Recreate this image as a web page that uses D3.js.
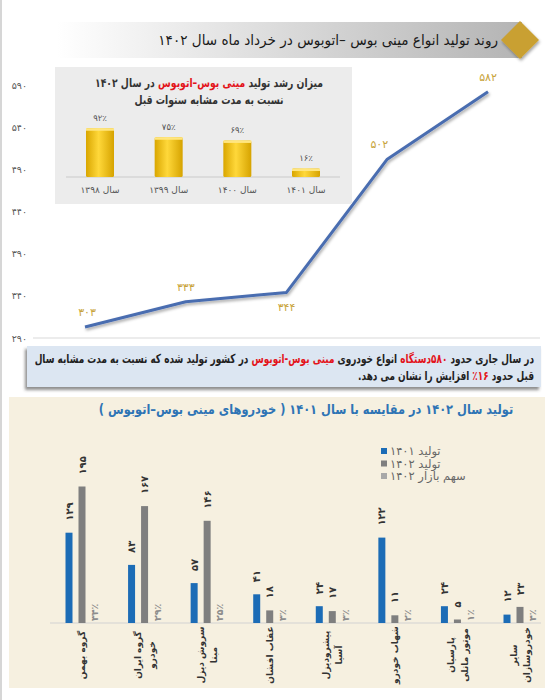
<!DOCTYPE html>
<html>
<head>
<meta charset="utf-8">
<script src="https://cdn.jsdelivr.net/npm/d3@7"></script>
<style>
body { margin: 0; background: #fff; }
svg { display: block; font-family: "DejaVu Sans", sans-serif; }
</style>
</head>
<body>
<div id="chart"></div>
<script>
// Persian digits
var fa = function (v) {
    return String(v).replace(/\d/g, function (d) { return "۰۱۲۳۴۵۶۷۸۹"[d]; });
};

// --- line chart: production trend (Khordad) ---
var trendYears = ["۱۳۹۸", "۱۳۹۹", "۱۴۰۰", "۱۴۰۱", "۱۴۰۲"];
var trendValues = [303, 333, 344, 502, 582];
var trendTicks = [290, 340, 390, 440, 490, 540, 590];

// --- inset: growth compared with same period of earlier years ---
var growthYears = ["سال ۱۳۹۸", "سال ۱۳۹۹", "سال ۱۴۰۰", "سال ۱۴۰۱"];
var growthValues = [92, 75, 69, 16];

// --- bottom chart: producers 1401 vs 1402 ---
var makers = [
    ["گروه بهمن"],
    ["گروه ایران", "خودرو"],
    ["سروش دیزل", "مبنا"],
    ["عقاب افشان"],
    ["پیشرودیزل", "آسیا"],
    ["شهاب خودرو"],
    ["پارسیان", "موتور مانلی"],
    ["سایر", "خودروسازان"]
];
var prod1401 = [129, 83, 57, 41, 24, 122, 24, 12];
var prod1402 = [195, 167, 146, 18, 17, 11, 5, 23];
var share1402 = [34, 29, 25, 3, 3, 2, 1, 4];
var legendNames = ["تولید ۱۴۰۱", "تولید ۱۴۰۲", "سهم بازار ۱۴۰۲"];

var W = 553, H = 700;
var svg = d3.select("#chart").append("svg")
        .attr("width", W)
        .attr("height", H);

var defs = svg.append("defs");
var bannerGrad = defs.append("linearGradient").attr("id", "banner");
bannerGrad.append("stop").attr("offset", "0%").attr("stop-color", "#ffffff");
bannerGrad.append("stop").attr("offset", "100%").attr("stop-color", "#b4b4b4");

var goldGrad = defs.append("linearGradient").attr("id", "gold");
goldGrad.append("stop").attr("offset", "0%").attr("stop-color", "#d9a600");
goldGrad.append("stop").attr("offset", "45%").attr("stop-color", "#ffd83a");
goldGrad.append("stop").attr("offset", "100%").attr("stop-color", "#d6a300");

var sh = defs.append("filter").attr("id", "shadow")
        .attr("x", "-10%").attr("y", "-30%").attr("width", "120%").attr("height", "160%");
sh.append("feDropShadow").attr("dx", 1).attr("dy", 2)
        .attr("stdDeviation", 1.4).attr("flood-color", "#000").attr("flood-opacity", 0.35);

var boxSh = defs.append("filter").attr("id", "boxshadow")
        .attr("x", "-5%").attr("y", "-20%").attr("width", "110%").attr("height", "150%");
boxSh.append("feDropShadow").attr("dx", -2).attr("dy", 3)
        .attr("stdDeviation", 1.5).attr("flood-color", "#444").attr("flood-opacity", 0.6);

// squeeze a text horizontally (about its anchor x) so it takes the given width
function squeeze(sel, w, s) {
    if (s === undefined) {
        var len = sel.node().getComputedTextLength();
        s = len > 0 ? w / len : 1;
    }
    var ax = +sel.attr("x");
    sel.attr("transform", "translate(" + ax + ",0) scale(" + s + ",1) translate(" + (-ax) + ",0)");
    return s;
}

// page frame
svg.append("line")
        .attr("x1", 1).attr("x2", 1).attr("y1", 0).attr("y2", H)
        .attr("stroke", "#d6d6d6").attr("stroke-width", 2);

// ===== title banner =====
svg.append("rect")
        .attr("x", 57).attr("y", 22).attr("width", 465).attr("height", 36)
        .attr("fill", "url(#banner)");
svg.append("path")
        .attr("d", "M520,21 L539,40 L520,59 L501,40 Z")
        .attr("fill", "#c9a030")
        .attr("filter", "url(#shadow)");
var title = svg.append("text")
        .attr("x", 498).attr("y", 40)
        .attr("dy", "0.35em")
        .attr("direction", "rtl")
        .attr("text-anchor", "start")
        .attr("font-size", 14.5)
        .attr("fill", "#1a1a1a")
        .text("روند تولید انواع مینی بوس –اتوبوس در خرداد ماه سال ۱۴۰۲");
squeeze(title, 340);

// ===== line chart =====
var x = d3.scalePoint().domain(trendYears).range([85, 488]);
var y = d3.scaleLinear().domain([290, 590]).range([338, 85]);

svg.append("line")
        .attr("x1", 33).attr("x2", 540)
        .attr("y1", y(290)).attr("y2", y(290))
        .attr("stroke", "#d9d9d9").attr("stroke-width", 1);

var yAxis = svg.append("g")
        .attr("transform", "translate(30,0)")
        .call(d3.axisLeft(y).tickValues(trendTicks).tickSize(0).tickPadding(3).tickFormat(fa));
yAxis.select(".domain").remove();
yAxis.selectAll("text")
        .attr("font-family", "DejaVu Sans")
        .attr("font-size", 9.5)
        .attr("fill", "#595959");

var line = d3.line()
        .x(function (d, i) { return x(trendYears[i]); })
        .y(function (d) { return y(d); });

svg.append("path")
        .datum(trendValues)
        .attr("d", line)
        .attr("fill", "none")
        .attr("stroke", "#4a6db0")
        .attr("stroke-width", 3)
        .attr("stroke-linejoin", "round")
        .attr("filter", "url(#shadow)");

// label side: -1 above, 1 below; small shift for the 4th label
var labelSide = [-1, -1, 1, -1, -1];
var labelShift = [2, 0, 0, -8, 0];
svg.append("g").selectAll("text")
        .data(trendValues)
        .enter()
        .append("text")
        .attr("x", function (d, i) { return x(trendYears[i]) + labelShift[i]; })
        .attr("y", function (d, i) { return y(d) + labelSide[i] * 15; })
        .attr("dy", "0.35em")
        .attr("text-anchor", "middle")
        .attr("font-size", 11)
        .attr("fill", "#c8a43c")
        .text(function (d) { return fa(d); });

// ===== inset: growth bars =====
svg.append("rect")
        .attr("x", 55).attr("y", 67).attr("width", 297).attr("height", 137)
        .attr("fill", "#ececec");

var insetT1 = svg.append("text")
        .attr("x", 209).attr("y", 83)
        .attr("dy", "0.35em")
        .attr("direction", "rtl")
        .attr("text-anchor", "middle")
        .attr("font-size", 12)
        .attr("font-weight", "bold")
        .attr("fill", "#333");
insetT1.append("tspan").text("میزان رشد تولید ");
insetT1.append("tspan").attr("fill", "#e3141b").text("مینی بوس–اتوبوس");
insetT1.append("tspan").text(" در سال ۱۴۰۲");
var sIn = squeeze(insetT1, 228);

var insetT2 = svg.append("text")
        .attr("x", 209).attr("y", 100)
        .attr("dy", "0.35em")
        .attr("direction", "rtl")
        .attr("text-anchor", "middle")
        .attr("font-size", 12)
        .attr("font-weight", "bold")
        .attr("fill", "#333")
        .text("نسبت به مدت مشابه سنوات قبل");
squeeze(insetT2, 0, sIn);

var gx = d3.scalePoint().domain(growthYears).range([100, 306]);
var gy = d3.scaleLinear().domain([0, 100]).range([177, 124]);
var barW = 28;

svg.append("line")
        .attr("x1", 66).attr("x2", 340)
        .attr("y1", gy(0)).attr("y2", gy(0))
        .attr("stroke", "#c9c9c9").attr("stroke-width", 1.2);

var gBars = svg.append("g").selectAll("g")
        .data(growthValues)
        .enter()
        .append("g");
gBars.append("rect")
        .attr("x", function (d, i) { return gx(growthYears[i]) - barW / 2; })
        .attr("y", function (d) { return gy(d); })
        .attr("width", barW)
        .attr("height", function (d) { return gy(0) - gy(d); })
        .attr("rx", 1.5)
        .attr("fill", "url(#gold)");
gBars.append("rect")
        .attr("x", function (d, i) { return gx(growthYears[i]) - barW / 2; })
        .attr("y", function (d) { return gy(d); })
        .attr("width", barW)
        .attr("height", 2.5)
        .attr("fill", "#ffe680");
gBars.append("text")
        .attr("x", function (d, i) { return gx(growthYears[i]); })
        .attr("y", function (d) { return gy(d) - 10; })
        .attr("dy", "0.35em")
        .attr("text-anchor", "middle")
        .attr("font-size", 8.5)
        .attr("fill", "#555")
        .text(function (d) { return fa(d) + "٪"; });
gBars.append("text")
        .attr("x", function (d, i) { return gx(growthYears[i]); })
        .attr("y", 190)
        .attr("dy", "0.35em")
        .attr("direction", "rtl")
        .attr("text-anchor", "middle")
        .attr("font-size", 9)
        .attr("fill", "#555")
        .text(function (d, i) { return growthYears[i]; });

// ===== text box =====
svg.append("rect")
        .attr("x", 27).attr("y", 346).attr("width", 514).attr("height", 41)
        .attr("fill", "#dce6f2")
        .attr("filter", "url(#boxshadow)");

var red = "#e3141b";
var note1 = svg.append("text")
        .attr("x", 534).attr("y", 359)
        .attr("dy", "0.35em")
        .attr("direction", "rtl")
        .attr("text-anchor", "start")
        .attr("font-size", 12.5)
        .attr("font-weight", "bold")
        .attr("fill", "#222");
note1.append("tspan").text("در سال جاری حدود ");
note1.append("tspan").attr("fill", red).text("۵۸۰دستگاه");
note1.append("tspan").text(" انواع خودروی ");
note1.append("tspan").attr("fill", red).text("مینی بوس-اتوبوس");
note1.append("tspan").text(" در کشور تولید شده که نسبت به مدت مشابه سال");
var sNote = squeeze(note1, 500);

var note2 = svg.append("text")
        .attr("x", 534).attr("y", 376)
        .attr("dy", "0.35em")
        .attr("direction", "rtl")
        .attr("text-anchor", "start")
        .attr("font-size", 12.5)
        .attr("font-weight", "bold")
        .attr("fill", "#222");
note2.append("tspan").text("قبل حدود ");
note2.append("tspan").attr("fill", red).text("۱۶٪");
note2.append("tspan").text(" افزایش را نشان می دهد.");
squeeze(note2, 0, sNote);

// ===== bottom chart =====
svg.append("rect")
        .attr("x", 9).attr("y", 397).attr("width", 536).attr("height", 291)
        .attr("fill", "#f6f0e0");

var bTitle = svg.append("text")
        .attr("x", 306).attr("y", 409)
        .attr("dy", "0.35em")
        .attr("direction", "rtl")
        .attr("text-anchor", "middle")
        .attr("font-size", 13.5)
        .attr("font-weight", "bold")
        .attr("fill", "#2e74b5")
        .text("تولید سال ۱۴۰۲ در مقایسه با سال ۱۴۰۱ ( خودروهای مینی بوس–اتوبوس )");
squeeze(bTitle, 415);

var mx = d3.scalePoint().domain(d3.range(makers.length)).range([82, 520]);
var sub = d3.scaleBand().domain([0, 1, 2]).range([-19.5, 19.5]);
var my = d3.scaleLinear().domain([0, 200]).range([623, 483]);
var bw = 7;
var colors = ["#1c6cb6", "#7f7f7f", "#a8a8a8"];

svg.append("line")
        .attr("x1", 50).attr("x2", 541)
        .attr("y1", my(0)).attr("y2", my(0))
        .attr("stroke", "#d2d2d2").attr("stroke-width", 1);

var series = [prod1401, prod1402];
series.forEach(function (vals, s) {
    var g = svg.append("g");
    g.selectAll("rect")
            .data(vals)
            .enter()
            .append("rect")
            .attr("x", function (d, i) { return mx(i) + sub(s) + sub.bandwidth() / 2 - bw / 2; })
            .attr("y", function (d) { return my(d); })
            .attr("width", bw)
            .attr("height", function (d) { return my(0) - my(d); })
            .attr("fill", colors[s]);
    g.selectAll("text")
            .data(vals)
            .enter()
            .append("text")
            .attr("transform", function (d, i) {
                var cx = mx(i) + sub(s) + sub.bandwidth() / 2;
                return "translate(" + cx + "," + (my(d) - 12) + ") rotate(-90)";
            })
            .attr("dy", "0.35em")
            .attr("text-anchor", "start")
            .attr("font-size", 10)
            .attr("font-weight", "bold")
            .attr("fill", "#333")
            .text(function (d) { return fa(d); });
});

// market share: shown as labels in the third slot
svg.append("g").selectAll("text")
        .data(share1402)
        .enter()
        .append("text")
        .attr("transform", function (d, i) {
            var cx = mx(i) + sub(2) + sub.bandwidth() / 2;
            return "translate(" + cx + "," + (my(0) - 2) + ") rotate(-90)";
        })
        .attr("dy", "0.35em")
        .attr("text-anchor", "start")
        .attr("font-size", 9.5)
        .attr("font-weight", "bold")
        .attr("fill", "#8c8c8c")
        .text(function (d) { return fa(d) + "٪"; });

// category labels
var cats = svg.append("g").selectAll("g")
        .data(makers)
        .enter()
        .append("g");
cats.selectAll("text")
        .data(function (d, i) {
            return d.map(function (t, k) { return {t: t, k: k, n: d.length, i: i}; });
        })
        .enter()
        .append("text")
        .attr("transform", function (d) {
            var off = d.n === 1 ? 0 : (d.k === 0 ? -6.5 : 7);
            return "translate(" + (mx(d.i) + off) + ",655) rotate(-90)";
        })
        .attr("dy", "0.35em")
        .attr("text-anchor", "middle")
        .attr("font-size", 9)
        .attr("font-weight", "bold")
        .attr("fill", "#333")
        .text(function (d) { return d.t; });

// legend
var leg = svg.append("g").selectAll("g")
        .data(legendNames)
        .enter()
        .append("g")
        .attr("transform", function (d, i) { return "translate(381," + (451 + i * 12.5) + ")"; });
leg.append("rect")
        .attr("x", 0).attr("y", -3)
        .attr("width", 6).attr("height", 6)
        .attr("fill", function (d, i) { return colors[i]; });
leg.append("text")
        .attr("x", 9).attr("y", 0)
        .attr("dy", "0.35em")
        .attr("text-anchor", "start")
        .attr("font-size", 11.5)
        .attr("fill", "#666")
        .text(function (d) { return d; });
</script>
</body>
</html>
